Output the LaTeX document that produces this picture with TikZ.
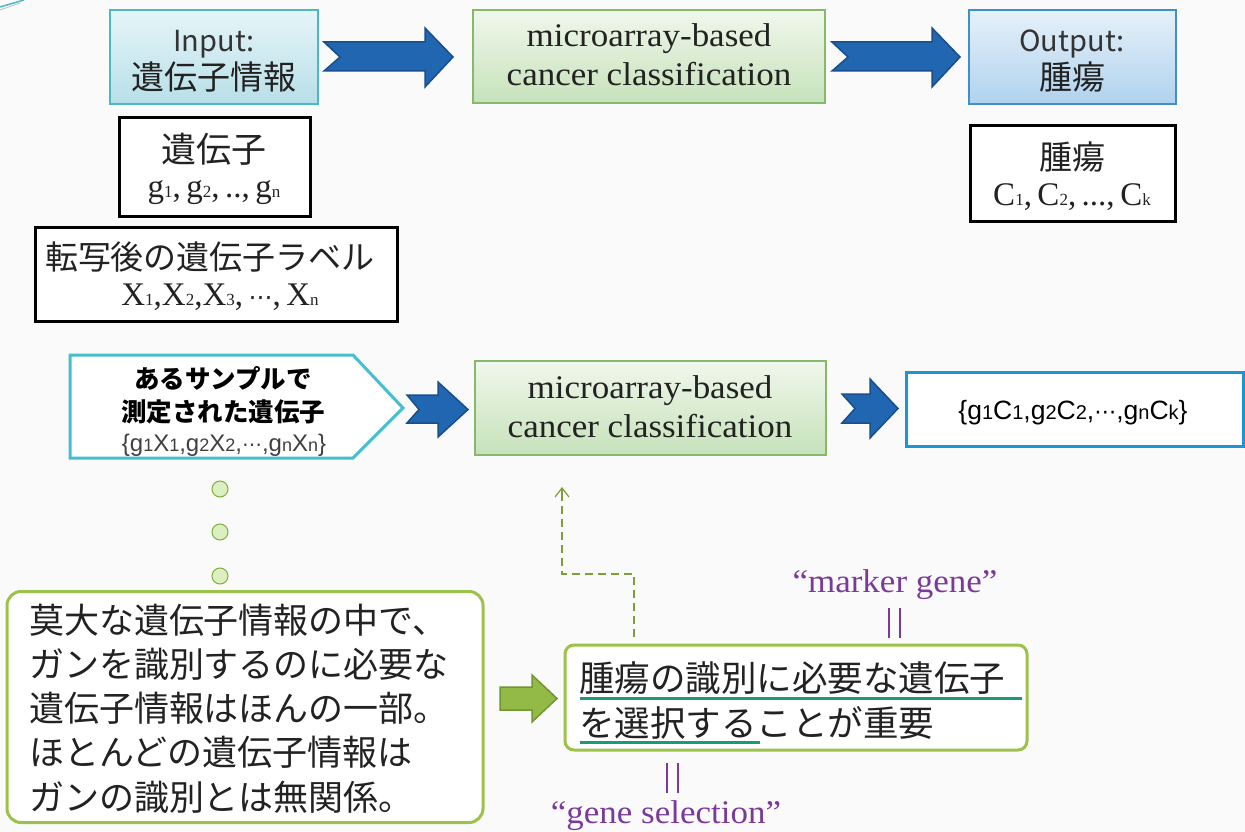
\documentclass[tikz,border=0pt]{standalone}
\usepackage{fontspec}
\usetikzlibrary{arrows.meta,calc}
\newfontfamily\jp{Noto Sans CJK JP}
\newfontfamily\ser[FakeStretch=1.06]{Liberation Serif}
\newfontfamily\serp{Liberation Serif}
\newfontfamily\ari{Liberation Sans}
\newfontfamily\dvs{DejaVu Sans}
\newcommand\fs[1]{\fontsize{#1}{#1}\selectfont}
\newcommand\ssub[1]{{\fontsize{17}{17}\selectfont #1}}
\newcommand\asub[1]{{\fontsize{18}{18}\selectfont #1}}
\newcommand\rsub[1]{{\fontsize{20}{20}\selectfont #1}}
\definecolor{bgc}{HTML}{FAFAFA}
\definecolor{inB}{HTML}{4BB8C4}
\definecolor{inT}{HTML}{E6F5F8}
\definecolor{inBt}{HTML}{B7DFE8}
\definecolor{midB}{HTML}{86B96B}
\definecolor{midT}{HTML}{F0F7EC}
\definecolor{midBt}{HTML}{C6E2BA}
\definecolor{outB}{HTML}{3E8FCB}
\definecolor{outT}{HTML}{E6F1F9}
\definecolor{outBt}{HTML}{AFD2EE}
\definecolor{arrF}{HTML}{2166B0}
\definecolor{arrD}{HTML}{184E8C}
\definecolor{pentB}{HTML}{45BED0}
\definecolor{resB}{HTML}{1B95D4}
\definecolor{dotF}{HTML}{DCEFC0}
\definecolor{dotB}{HTML}{7FAF3C}
\definecolor{gB}{HTML}{9DC24A}
\definecolor{gaF}{HTML}{93B947}
\definecolor{gaD}{HTML}{6F9630}
\definecolor{dashC}{HTML}{7E9E3E}
\definecolor{ulC}{HTML}{1B9A7A}
\definecolor{purp}{HTML}{7B3A99}
\definecolor{txtC}{HTML}{222222}
\begin{document}
\begin{tikzpicture}[x=1pt,y=-1pt,
  box/.style={inner sep=0pt, outer sep=0pt},
  inbox/.style={box, draw=inB, line width=1.3pt, top color=inT, bottom color=inBt},
  midbox/.style={box, draw=midB, line width=1.3pt, top color=midT, bottom color=midBt},
  outbox/.style={box, draw=outB, line width=1.3pt, top color=outT, bottom color=outBt},
  blk/.style={box, draw=black, line width=3pt, fill=white},
  resbox/.style={box, draw=resB, line width=3pt, fill=white},
  gbox/.style={box, draw=gB, line width=3pt, fill=white},
  blkarrow/.style={fill=arrF, draw=arrD, line width=1.5pt, line join=miter},
  garrow/.style={fill=gaF, draw=gaD, line width=1.5pt, line join=miter},
  dotnode/.style={circle, draw=dotB, fill=dotF, line width=1pt, minimum size=16pt, inner sep=0pt},
  txt/.style={inner sep=0pt, outer sep=0pt, text=txtC, anchor=base},
  dsh/.style={draw=dashC, line width=1.2pt, dash pattern=on 8pt off 5pt},
  purpline/.style={draw=purp, line width=1.3pt},
  ul/.style={draw=ulC, line width=3pt}
]
\useasboundingbox (0,0) rectangle (1245,832);
\fill[bgc] (0,0) rectangle (1245,832);
% corner decoration
\draw[inB, line width=1.5pt] (0,7) -- (24,0);
\draw[gray!50, line width=0.8pt] (0,10) -- (20,3);

% top row boxes
\node[inbox, minimum width=208pt, minimum height=94pt] (inp) at (214,57) {};
\node[midbox, minimum width=352pt, minimum height=93pt] (mid1) at (649,56.5) {};
\node[outbox, minimum width=207pt, minimum height=94pt] (outp) at (1072.5,57) {};

\node[txt, font=\jp\fs{29}, text=black!80] (inl1) at (214,52) {Input:};
\node[txt, font=\jp\fs{33}] (inl2) at (214,90) {遺伝子情報};
\node[txt, font=\ser\fs{33}] (m1l1) at (649,47) {microarray-based};
\node[txt, font=\ser\fs{33}] (m1l2) at (649,86) {cancer classification};
\node[txt, font=\jp\fs{29}, text=black!80] (outl1) at (1072,52) {Output:};
\node[txt, font=\jp\fs{33}] (outl2) at (1072,90) {腫瘍};

% top arrows
\draw[blkarrow] (324,42) -- (425,42) -- (425,28) -- (453,57) -- (425,87) -- (425,71) -- (324,71) -- (340,57) -- cycle;
\draw[blkarrow] (832,42) -- (932,42) -- (932,28) -- (960,57) -- (932,87) -- (932,71) -- (832,71) -- (848,57) -- cycle;

% black boxes
\node[blk, minimum width=191pt, minimum height=98pt] (gene) at (214.5,167) {};
\node[txt, font=\jp\fs{35}] (genel1) at (214,163) {遺伝子};
\node[txt, font=\serp\fs{33}] (genel2) at (214,197) {g\ssub{1},\,g\ssub{2},\,..,\,g\ssub{n}};

\node[blk, minimum width=362pt, minimum height=94pt] (lab) at (216,274) {};
\node[txt, font=\jp\fs{33}] (labl1) at (210,269) {転写後の遺伝子ラベル};
\node[txt, font=\serp\fs{33}] (labl2) at (220,305) {X\ssub{1},X\ssub{2},X\ssub{3},\,{\dvs\fs{24}⋯},\,X\ssub{n}};

\node[blk, minimum width=205pt, minimum height=95pt] (tum) at (1072.5,173.5) {};
\node[txt, font=\jp\fs{33}] (tuml1) at (1072,169) {腫瘍};
\node[txt, font=\serp\fs{33}] (tuml2) at (1072,205) {C\ssub{1},\,C\ssub{2},\,...,\,C\ssub{k}};

% second row
\draw[pentB, line width=3pt, fill=white, line join=miter] (70,355) -- (353,355) -- (403,408) -- (353,458) -- (70,458) -- cycle;
\node[txt, font=\jp\bfseries\fs{25.5}, text=black] (pl1) at (223,388) {あるサンプルで};
\node[txt, font=\jp\bfseries\fs{25.5}, text=black] (pl2) at (223,421) {測定された遺伝子};
\node[txt, font=\ari\fs{24}, text=black!75] (pl3) at (224,451) {\{g\asub{1}X\asub{1},g\asub{2}X\asub{2},{\dvs\fs{20}⋯},g\asub{n}X\asub{n}\}};

\draw[blkarrow] (407,395) -- (438,395) -- (438,382) -- (468,409.5) -- (438,437) -- (438,423) -- (407,423) -- (419,409.5) -- cycle;

\node[midbox, minimum width=351pt, minimum height=94pt] (mid2) at (650.5,408) {};
\node[txt, font=\ser\fs{33}] (m2l1) at (650,398) {microarray-based};
\node[txt, font=\ser\fs{33}] (m2l2) at (650,437) {cancer classification};

\draw[blkarrow] (842,394) -- (870,394) -- (870,379) -- (898,408.5) -- (870,438) -- (870,423) -- (842,423) -- (855,408.5) -- cycle;

\node[resbox, minimum width=337pt, minimum height=74pt] (res) at (1074.5,409) {};
\node[txt, font=\ari\fs{26.5}, text=black] (resl) at (1073,419) {\{g\rsub{1}C\rsub{1},g\rsub{2}C\rsub{2},{\dvs\fs{22}⋯},g\rsub{n}C\rsub{k}\}};

% dots
\node[dotnode] (d1) at (220,489) {};
\node[dotnode] (d2) at (220,532) {};
\node[dotnode] (d3) at (220,576) {};

% bottom left box
\node[gbox, rounded corners=14pt, minimum width=476pt, minimum height=231pt] (lbox) at (245,707) {};
\node[txt, font=\jp\fs{35}, anchor=base west] (lb1) at (29,633) {莫大な遺伝子情報の中で、};
\node[txt, font=\jp\fs{35}, anchor=base west] (lb2) at (29,677) {ガンを識別するのに必要な};
\node[txt, font=\jp\fs{35}, anchor=base west] (lb3) at (29,721) {遺伝子情報はほんの一部。};
\node[txt, font=\jp\fs{35}, anchor=base west] (lb4) at (29,765) {ほとんどの遺伝子情報は};
\node[txt, font=\jp\fs{35}, anchor=base west] (lb5) at (29,810) {ガンの識別とは無関係。};

% green arrow
\draw[garrow] (500,687) -- (532,687) -- (532,675) -- (557,698.5) -- (532,722) -- (532,710) -- (500,710) -- cycle;

% bottom right box
\node[gbox, rounded corners=9pt, minimum width=462pt, minimum height=105pt] (rbox) at (796,697.5) {};
\node[txt, font=\jp\fs{35.5}, anchor=base west] (rb1) at (579,691) {腫瘍の識別に必要な遺伝子};
\node[txt, font=\jp\fs{35.5}, anchor=base west] (rb2) at (579,736) {を選択することが重要};
\draw[ul] (580,698) -- (1022,698);
\draw[ul] (580,742) -- (760,742);

% dashed feedback
\coordinate (dtip) at (562,487);
\coordinate (dk) at (562,574);
\coordinate (dpre) at (562,500);
\draw[dsh] ($(rbox.north west)+(69,-8)$) |- (dk) -- (dpre);
\draw[draw=dashC, line width=1.2pt, -{Straight Barb[length=9pt,width=14pt]}] (dpre) -- (dtip);

% labels
\node[txt, font=\ser\fs{33}, text=purp] (mg) at (895,592) {“marker gene”};
\draw[purpline] (889,608) -- (889,638);
\draw[purpline] (900,608) -- (900,638);
\draw[purpline] (667,763) -- (667,793);
\draw[purpline] (678,763) -- (678,793);
\node[txt, font=\ser\fs{33}, text=purp] (gs) at (666,823) {“gene selection”};
\end{tikzpicture}
\end{document}
